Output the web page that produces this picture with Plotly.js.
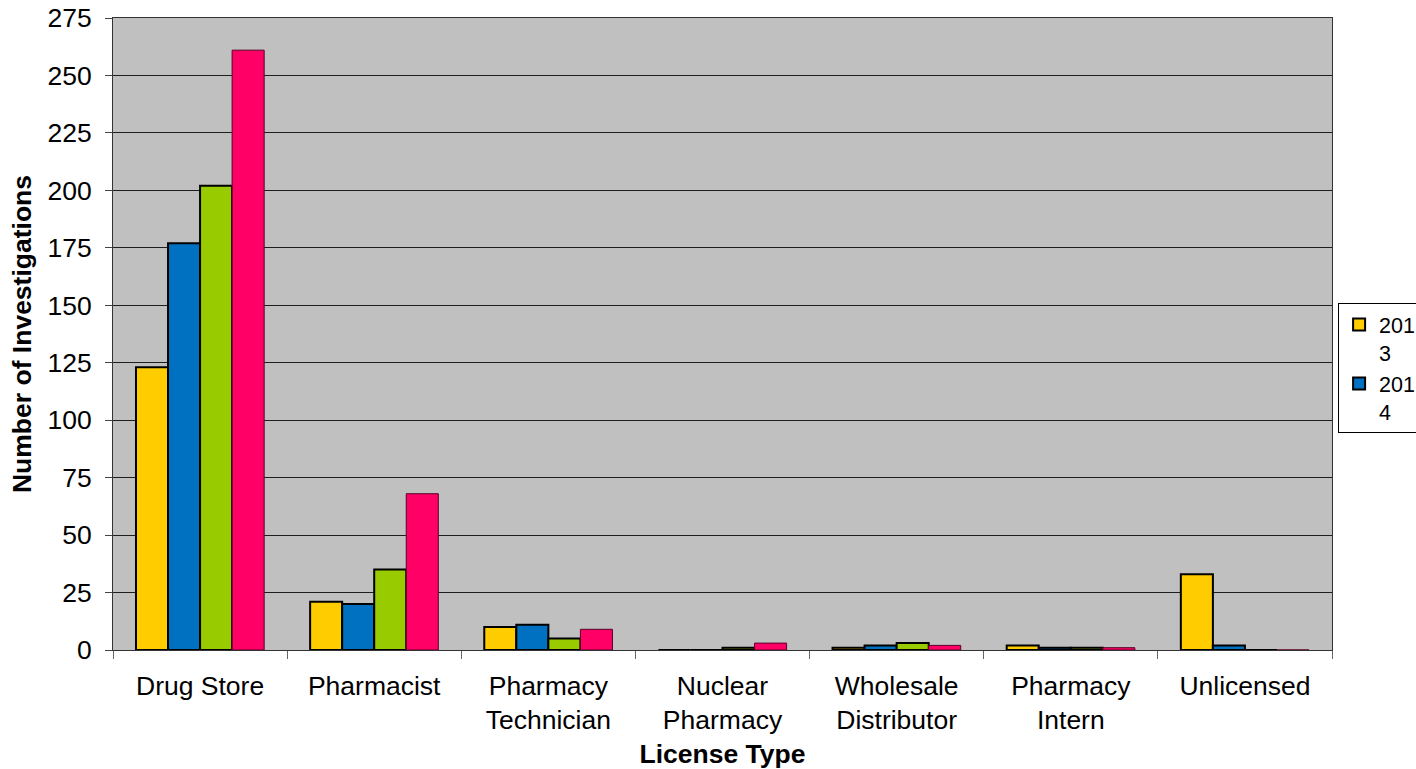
<!DOCTYPE html>
<html>
<head>
<meta charset="utf-8">
<script src="https://cdn.plot.ly/plotly-3.0.1.min.js"></script>
<style>
  html, body { margin: 0; padding: 0; background: #ffffff; }
  #chart { width: 1416px; height: 769px; }
</style>
</head>
<body>
<div id="chart"></div>
<script>
// License types on the x axis (line breaks as printed)
const licenseTypes = [
  'Drug Store',
  'Pharmacist',
  'Pharmacy<br>Technician',
  'Nuclear<br>Pharmacy',
  'Wholesale<br>Distributor',
  'Pharmacy<br>Intern',
  'Unlicensed'
];

// Number of investigations per license type, by year
const years = ['2013', '2014', '2015', '2016'];
const inv2013 = [123, 21, 10, 0, 1, 2, 33];
const inv2014 = [177, 20, 11, 0, 2, 1, 2];
const inv2015 = [202, 35, 5, 1, 3, 1, 0];
const inv2016 = [261, 68, 9, 3, 2, 1, 0];

const yTicks = [0, 25, 50, 75, 100, 125, 150, 175, 200, 225, 250, 275];

const seriesValues = [inv2013, inv2014, inv2015, inv2016];
const fills = ['#FFCC00', '#0070C0', '#99CC00', '#FF0066'];
const outlines = ['#000000', '#000000', '#000000', '#5a0025'];
const outlineWidths = [2, 2, 2, 1];
// only the first two years fit in the narrow legend box
const inLegend = [true, true, false, false];

const traces = years.map((yr, i) => ({
  type: 'bar',
  name: yr.slice(0, 3) + '<br>' + yr.slice(3),
  x: licenseTypes,
  y: seriesValues[i],
  marker: { color: fills[i], line: { color: outlines[i], width: outlineWidths[i] } },
  showlegend: inLegend[i],
  hoverinfo: 'x+y'
}));

const family = 'Liberation Sans, Arial, sans-serif';
const font = { family: family, size: 26.5, color: '#000' };
const legendFont = { family: family, size: 21.5, color: '#000' };

const layout = {
  width: 1416,
  height: 769,
  margin: { l: 113, r: 84, t: 18, b: 119, autoexpand: false },
  paper_bgcolor: '#ffffff',
  plot_bgcolor: '#C0C0C0',
  font: font,
  barmode: 'group',
  bargap: 0.264,
  bargroupgap: 0,
  xaxis: {
    type: 'category',
    tickson: 'boundaries',
    ticks: 'outside',
    ticklen: 8,
    tickcolor: '#666',
    tickwidth: 1,
    ticklabelstandoff: 12,
    showgrid: false,
    showline: true,
    linecolor: '#333',
    linewidth: 1,
    mirror: true,
    tickfont: font,
    automargin: false,
    title: { text: '<b>License Type</b>', font: font, standoff: 16 }
  },
  yaxis: {
    range: [0, 275],
    tickvals: yTicks,
    ticktext: yTicks.map(String),
    ticks: 'outside',
    ticklen: 7,
    tickcolor: '#444',
    tickwidth: 1,
    ticklabelstandoff: 8,
    showgrid: true,
    gridcolor: '#1e1e1e',
    gridwidth: 1,
    zeroline: false,
    showline: true,
    linecolor: '#333',
    linewidth: 1,
    mirror: true,
    tickfont: font,
    automargin: false,
    title: { text: '<b>Number of Investigations</b>', font: font, standoff: 8 }
  },
  legend: {
    x: 1.005,
    xanchor: 'left',
    y: 0.549,
    yanchor: 'top',
    valign: 'top',
    bgcolor: '#ffffff',
    bordercolor: '#000000',
    borderwidth: 1,
    font: legendFont,
    itemwidth: 30,
    tracegroupgap: 2
  },
  showlegend: true
};

Plotly.newPlot('chart', traces, layout, { displayModeBar: false, staticPlot: true });
</script>
</body>
</html>
